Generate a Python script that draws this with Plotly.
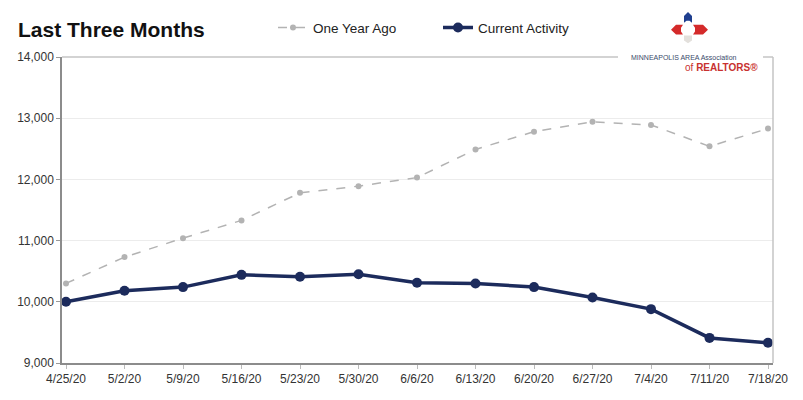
import plotly.graph_objects as go

dates = ["4/25/20", "5/2/20", "5/9/20", "5/16/20", "5/23/20", "5/30/20", "6/6/20",
         "6/13/20", "6/20/20", "6/27/20", "7/4/20", "7/11/20", "7/18/20"]
one_year_ago = [10300, 10730, 11040, 11330, 11780, 11890, 12030, 12490, 12780, 12940, 12890, 12540, 12830]
current_activity = [10000, 10180, 10240, 10440, 10410, 10450, 10310, 10300, 10240, 10070, 9880, 9410, 9330]
y_ticks = [9000, 10000, 11000, 12000, 13000, 14000]

W, H = 803, 400
L, R, T, B = 62, 773, 50, 363

def px(x):
    return (x - L) / (R - L)

def py(y):
    return (B - y) / (B - T)

xi = list(range(len(dates)))

fig = go.Figure()
fig.add_trace(go.Scatter(
    x=xi, y=one_year_ago, name="One Year Ago", mode="lines+markers",
    line=dict(color="#b3b3b3", width=1.5, dash="dash"),
    marker=dict(color="#b3b3b3", size=6), legend="legend",
))
fig.add_trace(go.Scatter(
    x=xi, y=current_activity, name="Current Activity", mode="lines+markers",
    line=dict(color="#1c2b5c", width=3.5),
    marker=dict(color="#1c2b5c", size=10), legend="legend2",
))

font = "Liberation Sans, Arial, sans-serif"
shapes = []
shapes.append(dict(type="line", xref="paper", yref="paper", x0=0, x1=px(618), y0=1, y1=1,
                   line=dict(color="#c4c4c4", width=1.5)))
shapes.append(dict(type="line", xref="paper", yref="paper", x0=px(763), x1=1, y0=1, y1=1,
                   line=dict(color="#c4c4c4", width=1.5)))
shapes.append(dict(type="line", xref="paper", yref="paper", x0=1, x1=1, y0=0, y1=1,
                   line=dict(color="#c4c4c4", width=1.5)))

def path(pts):
    return "M " + " L ".join(f"{px(a)},{py(b)}" for a, b in pts) + " Z"

shapes.append(dict(type="path", xref="paper", yref="paper", line=dict(width=0), fillcolor="#1f3f8f",
                   path=path([(684, 15), (684, 8), (688, 4), (692, 8), (692, 15), (689.5, 13), (686.5, 13)])))
shapes.append(dict(type="path", xref="paper", yref="paper", line=dict(width=0), fillcolor="#d42a2a",
                   path=path([(683, 17), (676, 17), (671, 22), (676, 27), (683, 27), (681, 24), (681, 20)])))
shapes.append(dict(type="path", xref="paper", yref="paper", line=dict(width=0), fillcolor="#d42a2a",
                   path=path([(693, 17), (703, 17), (708, 22), (703, 27), (693, 27), (695, 24), (695, 20)])))
shapes.append(dict(type="path", xref="paper", yref="paper", line=dict(width=0), fillcolor="#e3e0dc",
                   path=path([(684, 28), (692, 28), (692, 33), (688, 36), (684, 33)])))

annotations = [
    dict(text="<b>Last Three Months</b>", xref="paper", yref="paper", x=px(16), y=py(22),
         xanchor="left", yanchor="middle", showarrow=False,
         font=dict(family=font, size=21, color="#111111")),
    dict(text="MINNEAPOLIS AREA Association", xref="paper", yref="paper", x=px(684), y=py(51),
         xanchor="center", yanchor="middle", showarrow=False,
         font=dict(family=font, size=7, color="#3a4a6a")),
    dict(text="of <b>REALTORS®</b>", xref="paper", yref="paper", x=px(760), y=py(61),
         xanchor="right", yanchor="middle", showarrow=False,
         font=dict(family=font, size=10, color="#c8312f")),
]

leg_common = dict(orientation="h", yanchor="middle", xanchor="left",
                  font=dict(family=font, size=13.5, color="#222222"),
                  bgcolor="rgba(0,0,0,0)")

fig.update_layout(
    width=W, height=H,
    margin=dict(l=L, r=W - R, t=T, b=H - B, pad=0),
    paper_bgcolor="white", plot_bgcolor="white",
    font=dict(family=font, size=12, color="#222222"),
    showlegend=True,
    legend=dict(x=px(273), y=py(20), **leg_common),
    legend2=dict(x=px(438), y=py(20), **leg_common),
    xaxis=dict(
        range=[-(66 - L) / 58.5, 12 + (R - 768) / 58.5],
        tickmode="array", tickvals=xi, ticktext=dates,
        showgrid=False, zeroline=False,
        showline=True, linecolor="#8c8c8c", linewidth=1.5,
        ticks="outside", ticklen=4, tickcolor="#bbbbbb",
        tickfont=dict(size=12, color="#333333"),
    ),
    yaxis=dict(
        range=[9000, 14000],
        tickmode="array", tickvals=y_ticks, ticktext=[f"{v:,}" for v in y_ticks],
        showgrid=True, gridcolor="#ececec", gridwidth=1, zeroline=False,
        showline=True, linecolor="#8c8c8c", linewidth=1.5,
        ticks="outside", ticklen=4, tickcolor="#999999",
        tickfont=dict(size=12, color="#333333"),
    ),
    shapes=shapes,
    annotations=annotations,
)

fig.write_html("out.html")
